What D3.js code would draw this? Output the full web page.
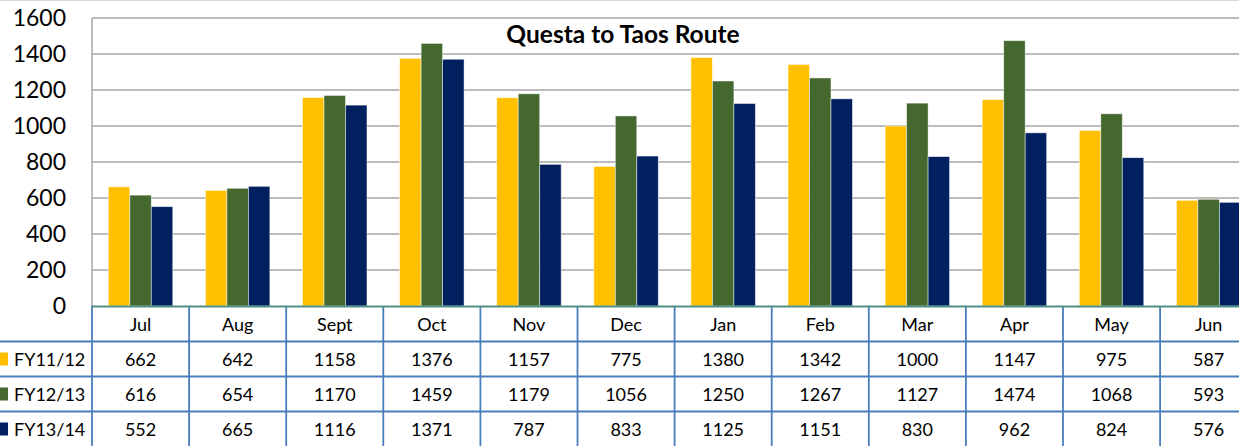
<!DOCTYPE html>
<html>
<head>
<meta charset="utf-8">
<script src="https://cdn.jsdelivr.net/npm/d3@7"></script>
<style>
  body { margin: 0; background: #fff; }
  svg { display: block; font-family: Lato, "Noto Sans", sans-serif; }
</style>
</head>
<body>
<div id="chart"></div>
<script>
// data
const months = ["Jul", "Aug", "Sept", "Oct", "Nov", "Dec", "Jan", "Feb", "Mar", "Apr", "May", "Jun"];
const seriesNames = ["FY11/12", "FY12/13", "FY13/14"];
const fy1112 = [662, 642, 1158, 1376, 1157, 775, 1380, 1342, 1000, 1147, 975, 587];
const fy1213 = [616, 654, 1170, 1459, 1179, 1056, 1250, 1267, 1127, 1474, 1068, 593];
const fy1314 = [552, 665, 1116, 1371, 787, 833, 1125, 1151, 830, 962, 824, 576];
const yTicks = [0, 200, 400, 600, 800, 1000, 1200, 1400, 1600];
const colors = ["#FFC000", "#44682E", "#002060"];

const series = [fy1112, fy1213, fy1314];

const width = 1239, height = 446;
const margin = { top: 18, left: 92 };
const plotBottom = 306;
const rowH = 35;

const svg = d3.select("#chart")
  .append("svg")
  .attr("width", width)
  .attr("height", height);

// set up scales
const x = d3.scaleBand()
  .domain(months)
  .range([margin.left, margin.left + 12 * 97.1]);

const y = d3.scaleLinear()
  .domain([0, 1600])
  .range([plotBottom, margin.top]);

const inner = d3.scaleBand()
  .domain(seriesNames)
  .range([0, x.bandwidth()])
  .paddingOuter(0.76)
  .paddingInner(0);

// light frame line at the very top
svg.append("line")
  .attr("x1", 0).attr("x2", width)
  .attr("y1", 0.5).attr("y2", 0.5)
  .attr("stroke", "#d9d9d9");

// gridlines
svg.append("g")
  .selectAll("line")
  .data(yTicks.filter(d => d > 0))
  .enter()
  .append("line")
  .attr("x1", margin.left).attr("x2", width)
  .attr("y1", d => y(d)).attr("y2", d => y(d))
  .attr("stroke", "#a6a6a6")
  .attr("stroke-width", 1.5);

// y axis line
svg.append("line")
  .attr("x1", margin.left).attr("x2", margin.left)
  .attr("y1", y(1600)).attr("y2", plotBottom)
  .attr("stroke", "#a6a6a6")
  .attr("stroke-width", 1.5);

// y tick labels
svg.append("g")
  .selectAll("text")
  .data(yTicks)
  .enter()
  .append("text")
  .attr("x", 66)
  .attr("y", d => y(d))
  .attr("dy", "0.36em")
  .attr("text-anchor", "end")
  .attr("font-size", 23)
  .attr("fill", "#000")
  .text(d => d);

// bars
seriesNames.forEach((name, i) => {
  svg.append("g")
    .selectAll("rect")
    .data(series[i])
    .enter()
    .append("rect")
    .attr("x", (d, j) => x(months[j]) + inner(name))
    .attr("y", d => y(d))
    .attr("width", inner.bandwidth())
    .attr("height", d => plotBottom - y(d))
    .attr("fill", colors[i])
    .attr("stroke", "rgba(255,255,255,0.6)")
    .attr("stroke-width", 0.8);
});

// title
svg.append("text")
  .attr("x", 623)
  .attr("y", 34)
  .attr("dy", "0.35em")
  .attr("text-anchor", "middle")
  .attr("font-size", 24.5)
  .attr("font-weight", "bold")
  .text("Questa to Taos Route");

// data table
const table = svg.append("g");
const tableBlue = "#4A7EBB";

// horizontal row lines
[1, 2, 3].forEach(r => {
  table.append("line")
    .attr("x1", 0).attr("x2", width)
    .attr("y1", plotBottom + r * rowH + 0.5).attr("y2", plotBottom + r * rowH + 0.5)
    .attr("stroke", tableBlue)
    .attr("stroke-width", 1.8);
});

// vertical column lines
const colEdges = months.map(m => x(m)).concat([x(months[11]) + x.bandwidth()]);
table.selectAll("line.v")
  .data(colEdges)
  .enter()
  .append("line")
  .attr("class", "v")
  .attr("x1", d => d).attr("x2", d => d)
  .attr("y1", plotBottom).attr("y2", height)
  .attr("stroke", tableBlue)
  .attr("stroke-width", 1.8);

// baseline
svg.append("line")
  .attr("x1", margin.left).attr("x2", width)
  .attr("y1", plotBottom + 0.5).attr("y2", plotBottom + 0.5)
  .attr("stroke", "#4E8F86")
  .attr("stroke-width", 2);

// month header
table.selectAll("text.month")
  .data(months)
  .enter()
  .append("text")
  .attr("class", "month")
  .attr("x", d => x(d) + x.bandwidth() / 2)
  .attr("y", plotBottom + rowH / 2 + 1)
  .attr("dy", "0.36em")
  .attr("text-anchor", "middle")
  .attr("font-size", 18)
  .text(d => d);

// value rows with legend keys
seriesNames.forEach((name, i) => {
  const cy = plotBottom + (i + 1) * rowH + rowH / 2 + 1;
  table.append("rect")
    .attr("x", -5).attr("y", cy - 7)
    .attr("width", 13).attr("height", 13)
    .attr("fill", colors[i]);
  table.append("text")
    .attr("x", 14).attr("y", cy)
    .attr("dy", "0.36em")
    .attr("font-size", 18)
    .text(name);
  table.append("g")
    .selectAll("text")
    .data(series[i])
    .enter()
    .append("text")
    .attr("x", (d, j) => x(months[j]) + x.bandwidth() / 2)
    .attr("y", cy)
    .attr("dy", "0.36em")
    .attr("text-anchor", "middle")
    .attr("font-size", 18)
    .text(d => d);
});
</script>
</body>
</html>
